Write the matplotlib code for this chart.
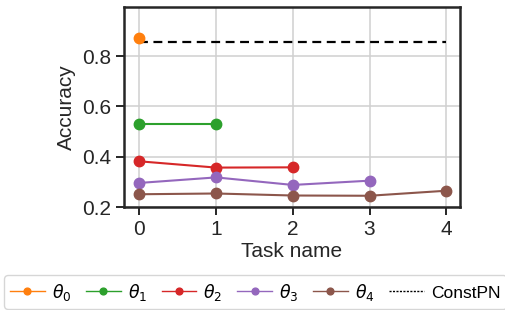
import matplotlib
matplotlib.use("Agg")
import matplotlib.pyplot as plt

# ------------------------------------
# DATA
# ------------------------------------
theta0 = [0.871]
theta1 = [0.530, 0.530]
theta2 = [0.382, 0.357, 0.358]
theta3 = [0.296, 0.318, 0.288, 0.305]
theta4 = [0.251, 0.254, 0.246, 0.245, 0.265]
const_pn = 0.857
series = [theta0, theta1, theta2, theta3, theta4]
labels = [r"$\theta_0$", r"$\theta_1$", r"$\theta_2$", r"$\theta_3$", r"$\theta_4$"]
colors = ["#ff7f0e", "#2ca02c", "#d62728", "#9467bd", "#8c564b"]
tasks = [0, 1, 2, 3, 4]

plt.rcParams["font.family"] = ["Liberation Sans", "DejaVu Sans"]

fig = plt.figure(figsize=(5.05, 3.10), dpi=100)
ax = fig.add_axes([0.2455, 0.332, 0.6655, 0.645])

for vals, lab, col in zip(series, labels, colors):
    ax.plot(tasks[:len(vals)], vals, marker="o", color=col, lw=1.5,
            markersize=7.5, label=lab, zorder=3)

ax.plot([tasks[0], tasks[-1]], [const_pn, const_pn], ls="--", color="black",
        lw=1.6, dashes=(4, 2.5), label="ConstPN", zorder=2)

ax.set_xlim(-0.2, 4.18)
ax.set_ylim(0.2, 0.995)
ax.set_xticks(tasks)
ax.set_yticks([0.2, 0.4, 0.6, 0.8])
ax.grid(True, color="#d0d0d0", lw=1.1)
ax.set_axisbelow(True)
for sp in ax.spines.values():
    sp.set_color("#262626")
    sp.set_linewidth(1.8)
ax.tick_params(axis="both", labelsize=15, colors="#262626", length=6, width=1.4)
ax.set_xlabel("Task name", fontsize=15, color="#262626", labelpad=2)
ax.set_ylabel("Accuracy", fontsize=15, color="#262626", labelpad=4)

handles, labs = ax.get_legend_handles_labels()
leg = fig.legend(handles, labs, loc="center left", bbox_to_anchor=(0.008, 0.058),
                 ncol=6, fontsize=12.5, markerscale=0.65, handlelength=2.0,
                 handletextpad=0.4, columnspacing=0.85, frameon=True,
                 borderpad=0.35, borderaxespad=0)
leg.get_frame().set_edgecolor("#cccccc")
for line in leg.get_lines():
    line.set_linewidth(1.0)
leg.get_lines()[-1].set_dashes((1.5, 1))
leg.get_lines()[-1].set_linewidth(1.0)

fig.savefig("out.png", dpi=100)
